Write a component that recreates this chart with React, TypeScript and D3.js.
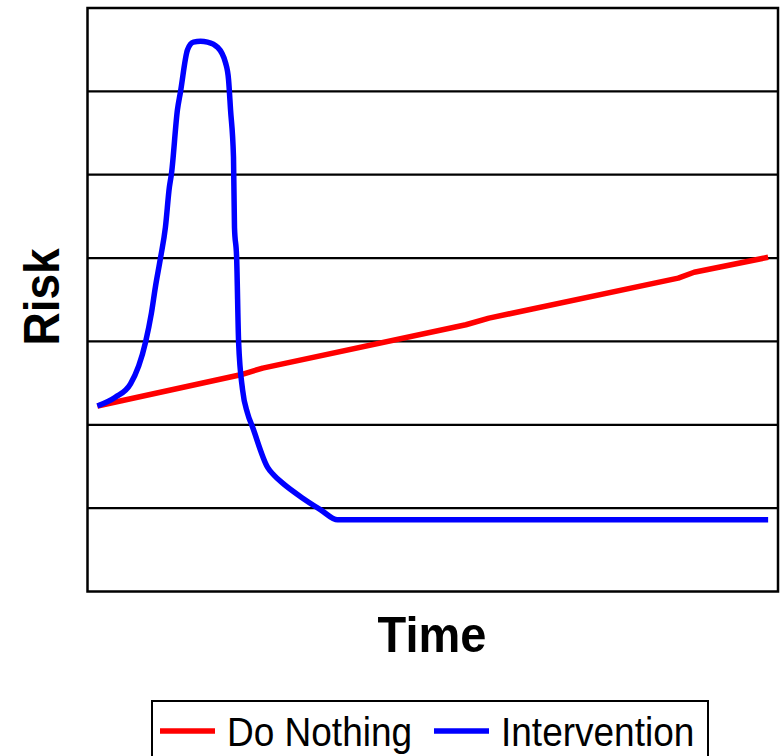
import React from "react";
import * as d3 from "d3";

// ── Data (time index, risk level) ───────────────────────────────────────────
const doNothingT = [0, 7.26, 8.38, 18.68, 19.85, 29.44, 30.25, 34];
const doNothingV = [2.225, 2.6, 2.68, 3.2, 3.28, 3.76, 3.83, 4.01];

const interventionT = [
  0, 0.91, 1.68, 2.44, 2.74, 2.94, 3.2, 3.45, 3.65, 3.76, 4.06, 4.21, 4.57,
  4.87, 5.23, 5.58, 6.09, 6.5, 6.65, 6.75, 6.9, 6.95, 7.06, 7.16, 7.36, 7.61,
  7.87, 8.63, 8.93, 9.39, 10.41, 11.32, 12.18, 34,
];
const interventionV = [
  2.225, 2.33, 2.49, 2.99, 3.34, 3.65, 4.0, 4.37, 4.85, 5.02, 5.78, 5.99, 6.5,
  6.59, 6.6, 6.59, 6.53, 6.34, 6.14, 5.78, 5.21, 4.37, 4.0, 2.99, 2.42, 2.14,
  1.97, 1.49, 1.4, 1.3, 1.12, 0.98, 0.86, 0.86,
];

const gridValues = [1, 2, 3, 4, 5, 6];
const seriesNames = ["Do Nothing", "Intervention"];
const seriesColors = ["#FF0000", "#0000FF"];

// ── Layout ──────────────────────────────────────────────────────────────────
const W = 781;
const H = 756;
const P = { left: 87.5, top: 8, right: 778, bottom: 591.5 };
const FONT = "'Liberation Sans', Arial, sans-serif";

export default function App() {
  const x = d3.scaleLinear().domain([-0.5, 34.5]).range([P.left, P.right]);
  const y = d3.scaleLinear().domain([0, 7]).range([P.bottom, P.top]);

  const straight = d3
    .line<[number, number]>()
    .x((d) => x(d[0]))
    .y((d) => y(d[1]));
  const smooth = straight.curve(d3.curveMonotoneX);

  const red = doNothingT.map((t, i) => [t, doNothingV[i]] as [number, number]);
  const blue = interventionT.map(
    (t, i) => [t, interventionV[i]] as [number, number]
  );
  const redPath = d3
    .line<[number, number]>()
    .x((d) => x(d[0]))
    .y((d) => y(d[1]))(red);

  return (
    <svg
      width={W}
      height={H}
      style={{ position: "absolute", left: 0, top: 0, background: "#fff" }}
    >
      {/* gridlines */}
      {gridValues.map((v) => (
        <line
          key={v}
          x1={P.left}
          x2={P.right}
          y1={y(v)}
          y2={y(v)}
          stroke="#000"
          strokeWidth={2.2}
        />
      ))}

      {/* series */}
      <path
        d={redPath ?? ""}
        fill="none"
        stroke={seriesColors[0]}
        strokeWidth={5.5}
        strokeLinejoin="round"
      />
      <path
        d={smooth(blue) ?? ""}
        fill="none"
        stroke={seriesColors[1]}
        strokeWidth={5.5}
        strokeLinejoin="round"
      />

      {/* plot frame */}
      <rect
        x={P.left}
        y={P.top}
        width={P.right - P.left}
        height={P.bottom - P.top}
        fill="none"
        stroke="#000"
        strokeWidth={2.5}
      />

      {/* axis titles */}
      <text
        transform="translate(59,297) rotate(-90) scale(1,1.08)"
        textAnchor="middle"
        fontFamily={FONT}
        fontWeight="bold"
        fontSize={46}
      >
        Risk
      </text>
      <text
        transform="translate(432,651.5) scale(1,1.08)"
        textAnchor="middle"
        fontFamily={FONT}
        fontWeight="bold"
        fontSize={47}
      >
        Time
      </text>

      {/* legend */}
      <rect x={152} y={701} width={556} height={70} fill="#fff" stroke="#000" strokeWidth={2} />
      {seriesNames.map((name, i) => {
        const lx = i === 0 ? 160 : 434;
        return (
          <g key={name}>
            <line x1={lx} x2={lx + 55} y1={731} y2={731} stroke={seriesColors[i]} strokeWidth={5.5} />
            <text
              transform={`translate(${lx + 67},746) scale(1,1.08)`}
              fontFamily={FONT}
              fontSize={37}
            >
              {name}
            </text>
          </g>
        );
      })}
    </svg>
  );
}
